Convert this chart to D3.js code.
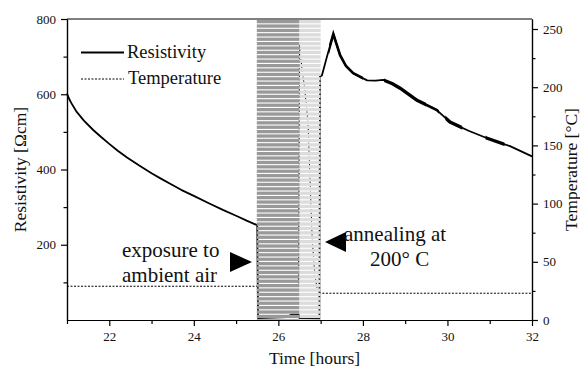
<!DOCTYPE html>
<html>
<head>
<meta charset="utf-8">
<script src="https://cdn.jsdelivr.net/npm/d3@7"></script>
<style>
  body { margin: 0; background: #fff; }
  text { font-family: "Liberation Serif", "Times New Roman", serif; fill: #111; }
</style>
</head>
<body>
<svg id="chart" width="580" height="371"></svg>
<script>
// resistivity (Ohm cm) vs time (hours)
let resTime = [21.0, 21.05, 21.1, 21.23, 21.4, 21.62, 21.8, 22.0, 22.2, 22.42, 22.7, 23.0, 23.2,
               23.44, 23.7, 24.0, 24.38, 24.7, 25.0, 25.25, 25.5,
               25.52, 26.2, 26.3, 26.48, 26.5, 26.97, 26.985,
               27.03, 27.15, 27.3, 27.46, 27.6, 27.77, 28.1, 28.3, 28.48, 28.7, 28.88,
               29.28, 29.75, 30.06, 30.5, 30.94, 31.48, 32.0];
let resVals = [602, 588, 577, 553, 530, 505, 487, 468, 450, 432, 411, 390, 377,
               362, 346, 330, 309, 292, 277, 264, 252,
               5, 8, 14, 14, 5, 3, 647,
               650, 700, 760, 704, 675, 656, 637, 636, 638, 628, 616,
               584, 558, 526, 503, 483, 462, 435];

// temperature (deg C) vs time (hours)
let tempTime = [21.0, 25.5, 26.48, 26.5, 26.56, 26.62, 26.7, 26.75, 26.8, 26.86, 26.92, 27.0, 32.0];
let tempVals = [29, 29, 29, 236, 215, 200, 170, 120, 70, 40, 26, 23, 23];

// shaded phases: [start, end, kind]
let phases = [[25.49, 26.5, "air"], [26.5, 27.0, "anneal"]];

// time ranges where the resistivity signal is noisy: [start, end, level]
let noisy = [[27.2, 28.0, 1], [28.5, 29.5, 2], [29.5, 29.8, 1], [29.95, 30.35, 2], [30.9, 31.35, 2]];

let xTicks = [22, 24, 26, 28, 30, 32];
let xMinor = [21, 23, 25, 27, 29, 31];
let resTicks = [200, 400, 600, 800];
let resMinor = [100, 300, 500, 700];
let tempTicks = [0, 50, 100, 150, 200, 250];
let tempMinor = [25, 75, 125, 175, 225];

let m = {left: 67, right: 532, top: 19, bottom: 320};
let serif = "Liberation Serif, Times New Roman, serif";
let svg = d3.select("#chart");

let x = d3.scaleLinear().domain([21, 32]).range([m.left, m.right]);
let yRes = d3.scaleLinear().domain([0, 800]).range([m.bottom, m.top]);
let yTemp = d3.scaleLinear().domain([0, 258.6]).range([m.bottom, m.top]);

let resData = resTime.map((t, i) => [t, resVals[i]]);
let tempData = tempTime.map((t, i) => [t, tempVals[i]]);

let resLine = d3.line().x(d => x(d[0])).y(d => yRes(d[1]));
let tempLine = d3.line().x(d => x(d[0])).y(d => yTemp(d[1]));

// data lines
svg.append("path")
  .attr("d", tempLine(tempData))
  .attr("fill", "none")
  .attr("stroke", "#000")
  .attr("stroke-width", 1)
  .attr("stroke-dasharray", "2,1.5");

svg.append("path")
  .attr("d", resLine(resData))
  .attr("fill", "none")
  .attr("stroke", "#000")
  .attr("stroke-width", 1.8)
  .attr("stroke-linejoin", "round");

// thicker overlay where the trace is noisy
let defs = svg.append("defs");
noisy.forEach((n, i) => {
  defs.append("clipPath").attr("id", "noise" + i)
    .append("rect")
    .attr("x", x(n[0])).attr("width", x(n[1]) - x(n[0]))
    .attr("y", m.top).attr("height", m.bottom - m.top);
  svg.append("path")
    .attr("d", resLine(resData))
    .attr("clip-path", "url(#noise" + i + ")")
    .attr("fill", "none")
    .attr("stroke", "#000")
    .attr("stroke-width", n[2] == 2 ? 3.4 : 2.6);
});

// striped phase bands drawn over the data (gaps let the data show through)
let stripes = d3.range(m.top + 1, m.bottom, 4.4);
phases.forEach(p => {
  svg.append("g")
    .selectAll("rect")
    .data(stripes).enter()
    .append("rect")
    .attr("x", x(p[0]))
    .attr("width", x(p[1]) - x(p[0]))
    .attr("y", d => d)
    .attr("height", d => Math.min(3.3, m.bottom - d))
    .attr("fill", p[2] == "air" ? "#999999" : "#dcdcdc");
});

// axes
function styleAxis(g) {
  g.attr("font-family", serif).attr("font-size", 13);
  g.select(".domain").attr("stroke", "#000").attr("stroke-width", 1.2);
  g.selectAll(".tick line").attr("stroke", "#000").attr("stroke-width", 1.2);
  g.selectAll(".tick text").attr("fill", "#222").style("font-family", serif);
}

svg.append("g").attr("transform", `translate(0,${m.bottom})`)
  .call(d3.axisBottom(x).tickValues(xTicks).tickSize(6).tickPadding(6).tickSizeOuter(0))
  .call(styleAxis);
svg.append("g").attr("transform", `translate(0,${m.bottom})`)
  .call(d3.axisBottom(x).tickValues(xMinor).tickSize(4).tickFormat("").tickSizeOuter(0))
  .call(styleAxis);

svg.append("g").attr("transform", `translate(${m.left},0)`)
  .call(d3.axisLeft(yRes).tickValues(resTicks).tickSize(6).tickPadding(5).tickSizeOuter(0))
  .call(styleAxis);
svg.append("g").attr("transform", `translate(${m.left},0)`)
  .call(d3.axisLeft(yRes).tickValues(resMinor).tickSize(3.5).tickFormat("").tickSizeOuter(0))
  .call(styleAxis);

svg.append("g").attr("transform", `translate(${m.right},0)`)
  .call(d3.axisRight(yTemp).tickValues(tempTicks).tickSize(6).tickPadding(5).tickSizeOuter(0))
  .call(styleAxis);
svg.append("g").attr("transform", `translate(${m.right},0)`)
  .call(d3.axisRight(yTemp).tickValues(tempMinor).tickSize(3.5).tickFormat("").tickSizeOuter(0))
  .call(styleAxis);

svg.append("line")
  .attr("x1", m.left).attr("x2", m.right).attr("y1", m.top).attr("y2", m.top)
  .attr("stroke", "#000").attr("stroke-width", 1.2);

// axis titles
svg.append("text")
  .attr("x", (m.left + m.right) / 2 + 15).attr("y", 364)
  .attr("text-anchor", "middle")
  .style("font-size", "17.5px")
  .text("Time [hours]");

svg.append("text")
  .attr("transform", `translate(26,${(m.top + m.bottom) / 2}) rotate(-90)`)
  .attr("text-anchor", "middle")
  .style("font-size", "17.5px")
  .text("Resistivity [\u03a9cm]");

svg.append("text")
  .attr("transform", `translate(577,${(m.top + m.bottom) / 2}) rotate(-90)`)
  .attr("text-anchor", "middle")
  .style("font-size", "17.5px")
  .text("Temperature [\u00b0C]");

// legend
svg.append("line")
  .attr("x1", 81).attr("x2", 124).attr("y1", 52.5).attr("y2", 52.5)
  .attr("stroke", "#000").attr("stroke-width", 2);
svg.append("text").attr("x", 127).attr("y", 58)
  .style("font-size", "18.5px").text("Resistivity");
svg.append("line")
  .attr("x1", 81).attr("x2", 124).attr("y1", 79).attr("y2", 79)
  .attr("stroke", "#000").attr("stroke-width", 1).attr("stroke-dasharray", "2,1.5");
svg.append("text").attr("x", 128).attr("y", 84)
  .style("font-size", "18.5px").text("Temperature");

// annotations
svg.append("text").attr("x", 122).attr("y", 257)
  .style("font-size", "21px").text("exposure to");
svg.append("text").attr("x", 122).attr("y", 282)
  .style("font-size", "21px").text("ambient air");
svg.append("path")
  .attr("d", "M230,252 L252,262 L230,272 Z")
  .attr("fill", "#000");

svg.append("path")
  .attr("d", "M325,242 L346,232 L346,252 Z")
  .attr("fill", "#000");
svg.append("text").attr("x", 344).attr("y", 241)
  .style("font-size", "21px").text("annealing at");
svg.append("text").attr("x", 370).attr("y", 266)
  .style("font-size", "21px").text("200\u00b0 C");
</script>
</body>
</html>
